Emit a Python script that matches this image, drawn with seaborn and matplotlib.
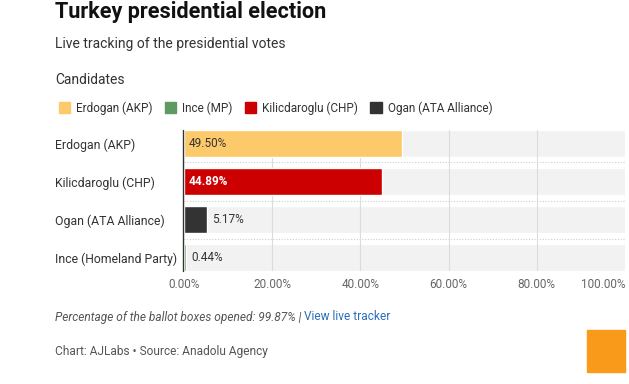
import matplotlib.pyplot as plt
import matplotlib.patches as mpatches
import pandas as pd
import seaborn as sns

sns.set_theme(style="white")
plt.rcParams["font.family"] = ["Roboto", "DejaVu Sans"]

candidates = ["Erdogan (AKP)", "Kilicdaroglu (CHP)", "Ogan (ATA Alliance)", "Ince (Homeland Party)"]
votes = [49.50, 44.89, 5.17, 0.44]
bar_colors = ["#fdca6b", "#cc0000", "#333333", "#5f9a62"]
legend_names = ["Erdogan (AKP)", "Ince (MP)", "Kilicdaroglu (CHP)", "Ogan (ATA Alliance)"]
legend_colors = ["#fdca6b", "#5f9a62", "#cc0000", "#333333"]
xticks = [0, 20, 40, 60, 80, 100]

df = pd.DataFrame({"candidate": candidates, "votes": votes, "full": [100] * len(candidates)})

fig = plt.figure(figsize=(6.29, 3.84), dpi=100)
ax = fig.add_axes([184 / 629, 113 / 384, 441 / 629, 141 / 384])

# grey track behind each bar
sns.barplot(data=df, x="full", y="candidate", color="#f2f2f2", width=0.7,
            saturation=1, ax=ax, zorder=1)
for x in xticks[1:]:
    ax.axvline(x, color="#dcdcdc", lw=0.8, zorder=1.5)
sns.barplot(data=df, x="votes", y="candidate", hue="candidate",
            palette=dict(zip(candidates, bar_colors)), width=0.7,
            saturation=1, legend=False, ax=ax, zorder=2)

for y in [0.5, 1.5, 2.5]:
    ax.axhline(y, color="#cfcfcf", lw=0.8, ls=(0, (1, 1.5)), zorder=1)

ax.set_xlim(0, 100)
ax.set_ylim(3.35, -0.35)
ax.plot([-0.15, -0.15], [-0.35, 3.35], color="#333333", lw=1.0, zorder=3, clip_on=False)
for s in ax.spines.values():
    s.set_visible(False)

ax.set_xlabel("")
ax.set_ylabel("")
ax.set_xticks(xticks)
ax.set_xticklabels([f"{v:.2f}%" for v in xticks], fontsize=8.5, color="#666666")
ax.get_xticklabels()[-1].set_ha("right")
ax.tick_params(axis="x", length=0, pad=5)
ax.tick_params(axis="y", length=0, pad=93, labelsize=8.8, labelcolor="#333333")
for lab in ax.get_yticklabels():
    lab.set_ha("left")

# value labels
for i, v in enumerate(votes):
    if v > 40:
        white = i == 1
        ax.text(1, i, f"{v:.2f}%", va="center", ha="left", fontsize=8.5,
                color="white" if white else "#333333",
                fontweight="bold" if white else "normal", zorder=4)
    else:
        ax.text(v + 1.3, i, f"{v:.2f}%", va="center", ha="left", fontsize=8.5,
                color="#333333", zorder=4)

# header
fig.text(55 / 629, 1 - 12 / 384, "Turkey presidential election", fontsize=15.6,
         fontweight="bold", color="#111111", va="center")
fig.text(55 / 629, 1 - 44 / 384, "Live tracking of the presidential votes",
         fontsize=10, color="#333333", va="center")
fig.text(55 / 629, 1 - 80 / 384, "Candidates", fontsize=10, color="#333333", va="center")

# legend
handles = [mpatches.Patch(color=c, label=n) for n, c in zip(legend_names, legend_colors)]
leg = fig.legend(handles=handles, loc="center left", bbox_to_anchor=(48 / 629, 1 - 108 / 384),
                 ncol=4, frameon=False, fontsize=8.5, handlelength=1.0, handleheight=1.0,
                 handletextpad=0.5, columnspacing=1.0, labelcolor="#333333")

# footer
t1 = fig.text(55 / 629, 1 - 317 / 384, "Percentage of the ballot boxes opened: 99.87% | ",
              fontsize=8.6, style="italic", color="#555555", va="center")
fig.canvas.draw()
bb = t1.get_window_extent()
fig.text(bb.x1 / fig.bbox.width, 1 - 317 / 384, "View live tracker", fontsize=8.6,
         color="#2a6ebb", va="center")
fig.text(55 / 629, 1 - 351 / 384, "Chart: AJLabs \u2022 Source: Anadolu Agency",
         fontsize=8.6, color="#555555", va="center")

fig.patches.append(mpatches.Rectangle((587 / 629, 1 - 372 / 384), 38 / 629, 42 / 384,
                                      transform=fig.transFigure, color="#fa9a1b"))

fig.savefig("out.png", dpi=100)
